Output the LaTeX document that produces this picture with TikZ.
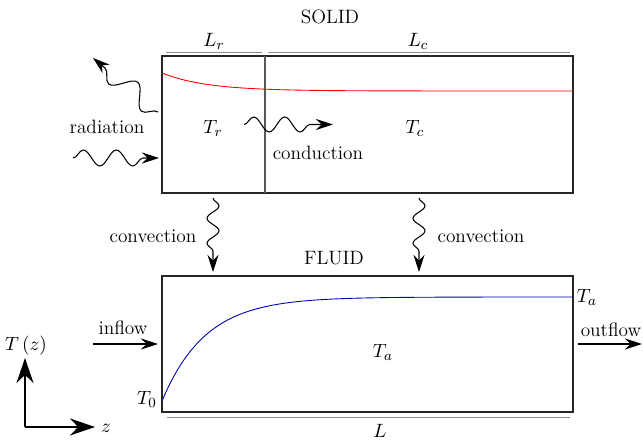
\documentclass[tikz,border=0pt]{standalone}
\usepackage{amsmath}
\usetikzlibrary{arrows.meta,decorations.pathmorphing,calc}

\begin{document}
\begin{tikzpicture}[font=\fontsize{11}{13}\selectfont,
  box/.style={draw=black!85,line width=0.6pt},
  dimline/.style={draw=black!45,line width=0.5pt},
  flow/.style={line width=0.6pt,-{Stealth[length=3.4mm,width=2.2mm]}},
  wave/.style={flow,decorate,decoration={snake,amplitude=0.16cm,segment length=0.66cm,post length=3mm}}]
\useasboundingbox (0,0) rectangle (12.86,8.86);
% solid and fluid
\coordinate (S0) at (3.24,5.00);
\coordinate (S1) at (11.46,7.74);
\coordinate (F0) at (3.24,0.62);
\coordinate (F1) at (11.46,3.34);
\draw[box] (S0) rectangle (S1);
\draw[box] (F0) rectangle (F1);
\draw[box,draw=black!65] (5.30,5.00)--(5.30,7.74);
\draw[dimline] (3.32,7.82)--(5.24,7.82);
\draw[dimline] (5.36,7.82)--(11.40,7.82);
\draw[dimline] (3.34,0.52)--(11.40,0.52);
% temperature profiles
\draw[red,line width=0.5pt,domain=3.24:11.46,samples=100] plot (\x,{7.04+0.36*exp(-(\x-3.24)/0.9)});
\draw[blue!70!black,line width=0.5pt,domain=3.24:11.46,samples=100] plot (\x,{2.92-2.08*exp(-(\x-3.24)/0.87)});
% labels
\node (solid) at (6.6,8.52) {SOLID};
\node (Lr) at (4.28,8.04) {$L_r$};
\node (Lc) at (8.36,8.04) {$L_c$};
\node (Tr) at (4.26,6.30) {$T_r$};
\node (Tc) at (8.30,6.30) {$T_c$};
\node (rad) at (2.14,6.32) {radiation};
\node (cond) at (6.36,5.80) {conduction};
\node (convl) at (3.06,4.14) {convection};
\node (convr) at (9.62,4.14) {convection};
\node (fluid) at (6.68,3.70) {FLUID};
\node (inflow) at (2.46,2.30) {inflow};
\node (outflow) at (12.22,2.26) {outflow};
\node (Taout) at (11.74,2.92) {$T_a$};
\node (Ta) at (7.66,1.82) {$T_a$};
\node (T0) at (2.94,0.88) {$T_0$};
\node (L) at (7.6,0.24) {$L$};
\node (Tz) at (0.52,1.94) {$T\,(z)$};
\node (z) at (2.12,0.30) {$z$};
% heat transfer
\coordinate (radin0) at (1.46,5.70);
\coordinate (radin1) at (3.18,5.70);
\coordinate (radout0) at (3.16,6.62);
\coordinate (radout1) at (1.86,7.70);
\coordinate (cond0) at (4.88,6.37);
\coordinate (cond1) at (6.66,6.37);
\coordinate (cvl0) at (4.26,4.90);
\coordinate (cvl1) at (4.26,3.42);
\coordinate (cvr0) at (8.38,4.90);
\coordinate (cvr1) at (8.38,3.42);
\draw[wave] (radin0)--(radin1);
\draw[wave,decoration={amplitude=0.2cm,segment length=0.85cm,post length=3mm}] (radout0)--(radout1);
\draw[wave,decoration={amplitude=0.15cm,segment length=0.62cm,post length=3mm}] (cond0)--(cond1);
\draw[wave,decoration={amplitude=0.12cm,segment length=0.5cm,post length=3mm}] (cvl0)--(cvl1);
\draw[wave,decoration={amplitude=0.12cm,segment length=0.5cm,post length=3mm}] (cvr0)--(cvr1);
% flow in and out
\coordinate (in0) at (1.86,1.98);
\coordinate (in1) at (3.16,1.98);
\coordinate (out0) at (11.56,1.98);
\coordinate (out1) at (12.84,1.98);
\draw[flow] (in0)--(in1);
\draw[flow] (out0)--(out1);
% axes
\coordinate (O) at (0.5,0.32);
\draw[flow,-{Stealth[length=5mm,width=3.4mm]}] (O)--(0.5,1.70);
\draw[flow,-{Stealth[length=5mm,width=3.4mm]}] (O)--(1.90,0.32);
\end{tikzpicture}
\end{document}
